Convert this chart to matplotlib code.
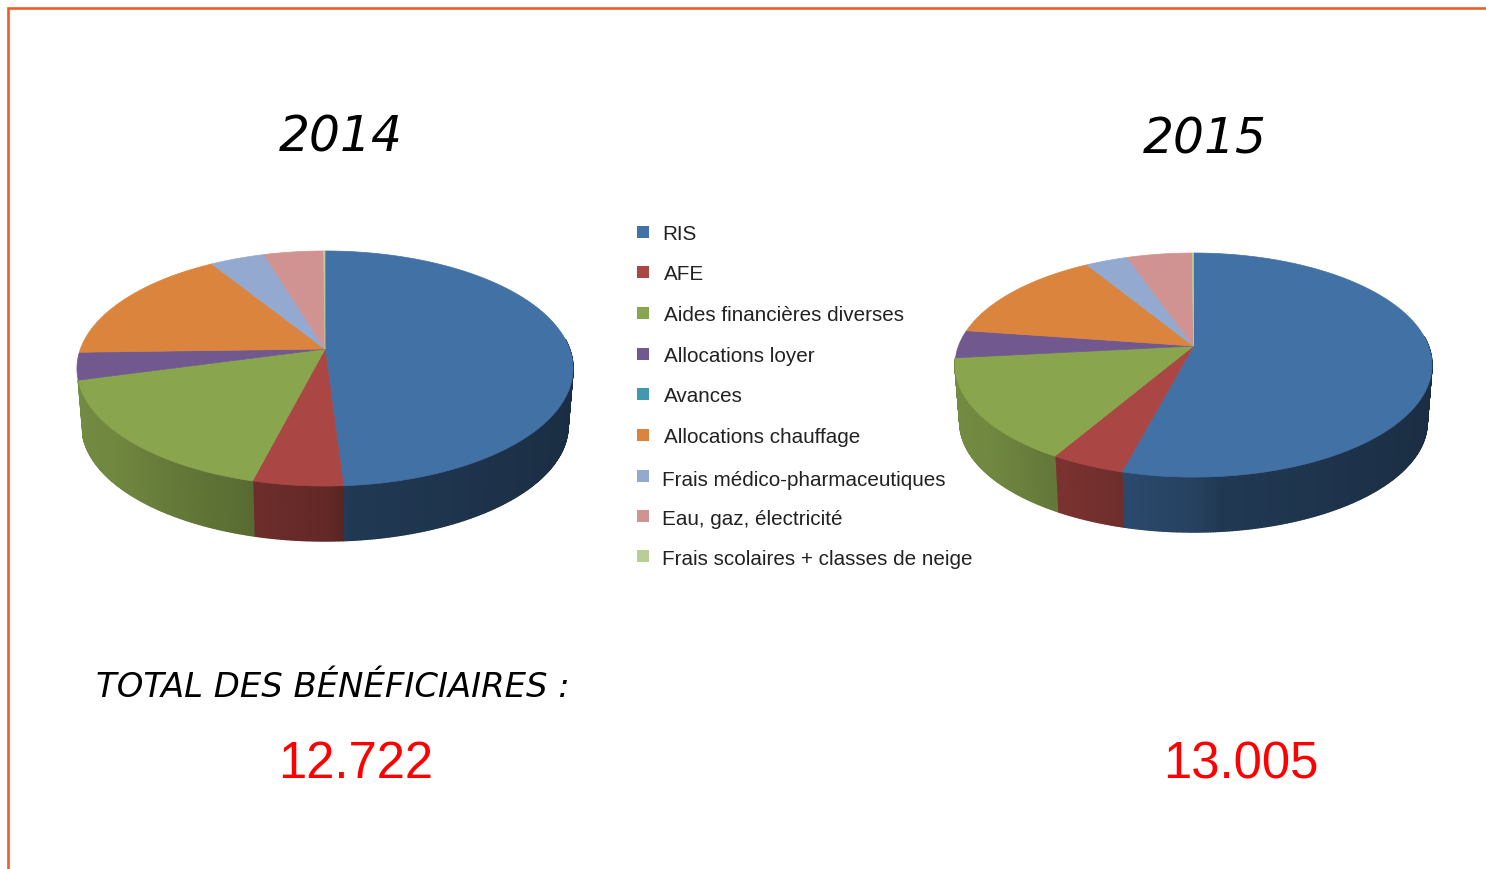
import numpy as np
import matplotlib
matplotlib.use("Agg")
import matplotlib.pyplot as plt
from matplotlib.colors import to_rgb

W, H = 1486, 870

categories = ["RIS", "AFE", "Aides financières diverses", "Allocations loyer", "Avances",
              "Allocations chauffage", "Frais médico-pharmaceutiques", "Eau, gaz, électricité",
              "Frais scolaires + classes de neige"]
colors = ["#4271a6", "#aa4643", "#89a54e", "#71588f", "#4198af",
          "#db843d", "#93a9cf", "#d19392", "#b9cd96"]

# shares in %
values_2014 = [49.0, 5.0, 16.8, 3.75, 0.0, 16.6, 4.2, 4.55, 0.1]
values_2015 = [54.1, 4.3, 14.9, 4.0, 0.0, 14.0, 3.4, 5.2, 0.1]
total_2014 = "12.722"
total_2015 = "13.005"

legend_y = [235, 275, 316, 357, 397, 438, 481, 520, 560]
marker_y = [233, 273, 314, 355, 395, 436, 477, 517, 557]
legend_x = [662, 664, 664, 664, 664, 664, 662, 662, 662]

# wall brightness by angle, clockwise from 12 o'clock
shade_t = [90, 130, 175, 180, 195, 230, 270]
shade_f = [0.38, 0.42, 0.50, 0.58, 0.65, 0.82, 0.85]


def project(t, cx, cy, R, a, k, scale=1.0, drop=0.0):
    """Perspective view of a unit disc, t in degrees clockwise from the top."""
    x = np.sin(np.radians(t))
    y = np.cos(np.radians(t))
    d = 1 + k * y
    return cx + scale * R * x / d, cy - scale * a * y / d + drop


def draw_pie(ax, values, cx, cy, R, a, k, drop):
    edges = np.concatenate([[0], np.cumsum(values)]) / np.sum(values) * 360

    # side wall first, only the three front slices show one
    for v0, v1, c in zip(edges[:3], edges[1:4], colors[:3]):
        steps = np.arange(max(v0, 85), v1 + 0.5, 0.5)
        steps[-1] = v1
        for t0, t1 in zip(steps[:-1], steps[1:]):
            ts = np.array([t0, t1])
            xa, ya = project(ts, cx, cy, R, a, k)
            xb, yb = project(ts[::-1], cx, cy, R, a, k, 0.98, drop)
            f = np.interp((t0 + t1) / 2, shade_t, shade_f)
            col = tuple(np.array(to_rgb(c)) * f)
            ax.fill(np.r_[xa, xb], np.r_[ya, yb], color=col, lw=1.0, zorder=2)

    for v0, v1, c in zip(edges[:-1], edges[1:], colors):
        if v1 <= v0:
            continue
        ts = np.linspace(v0, v1, max(int(v1 - v0), 2) + 1)
        xs, ys = project(ts, cx, cy, R, a, k)
        ax.fill(np.r_[cx, xs], np.r_[cy, ys], color=c, lw=0.5, zorder=3)


fig = plt.figure(figsize=(W / 100, H / 100), dpi=100, facecolor="white")
ax = fig.add_axes([0, 0, 1, 1])
ax.set_xlim(0, W)
ax.set_ylim(H, 0)
ax.axis("off")

# orange frame, open on the right and at the bottom
ax.plot([7.5, 7.5, W], [H, 9, 9], color="#f15a29", lw=1.9, zorder=1, solid_joinstyle="miter")

draw_pie(ax, values_2014, 325, 350, 244.6, 114.3, 0.166, 57.7)
draw_pie(ax, values_2015, 1193.5, 347, 235, 108.8, 0.170, 57.6)

hand = dict(family="DejaVu Sans", style="oblique", color="black", va="center")
ax.text(341, 138, "2014", fontsize=35, ha="center", **hand)
ax.text(1205, 139, "2015", fontsize=35, ha="center", **hand)
ax.text(96, 688, "TOTAL DES BÉNÉFICIAIRES :", fontsize=24.4, ha="left", **hand)

for name, c, lx, ly, my in zip(categories, colors, legend_x, legend_y, marker_y):
    ax.scatter([643], [my], marker="s", s=72, color=c, lw=0, zorder=3)
    ax.text(lx, ly, name, fontsize=14.85, family="Liberation Sans", color="#222222",
            va="center", ha="left")

ax.text(356, 765, total_2014, fontsize=36.6, family="Liberation Sans", color="#ff0000",
        ha="center", va="center")
ax.text(1241, 765, total_2015, fontsize=36.6, family="Liberation Sans", color="#ff0000",
        ha="center", va="center")

fig.savefig("out.png", dpi=100, facecolor="white")
